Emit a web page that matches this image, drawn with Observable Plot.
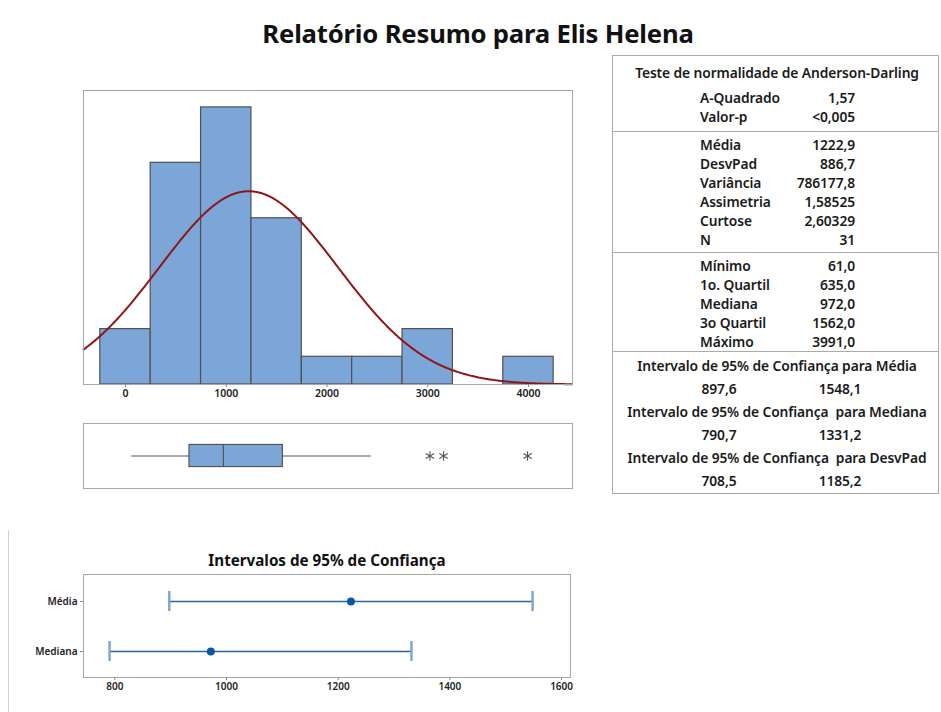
<!DOCTYPE html>
<html><head><meta charset="utf-8">
<script src="https://cdn.jsdelivr.net/npm/d3@7"></script>
<script src="https://cdn.jsdelivr.net/npm/@observablehq/plot@0.6"></script>
<style>
body{margin:0;background:#fff;font-family:"Noto Sans",sans-serif;}
#root{position:relative;width:941px;height:712px;overflow:hidden;background:#fff}
.abs{position:absolute;white-space:pre}
.plot{position:absolute}
</style></head><body><div id="root"></div>
<script>
// ---------- data ----------
const title = "Relatório Resumo para Elis Helena";
const binCenters = [0, 500, 1000, 1500, 2000, 2500, 3000, 3500, 4000];
const binCounts  = [2, 8, 10, 6, 1, 1, 2, 0, 1];
const binWidth = 500;
const histTicks = [0, 1000, 2000, 3000, 4000];
const mean = 1222.9, stdev = 886.7, n = 31;

const boxMin = 61, boxQ1 = 635, boxMedian = 972, boxQ3 = 1562, boxWhiskerHigh = 2441;
const boxOutliers = [3022, 3157, 3991];

const ciTitle = "Intervalos de 95% de Confiança";
const ciLabels = ["Média", "Mediana"];
const ciCenter = [1222.9, 972.0];
const ciLow = [897.6, 790.7];
const ciHigh = [1548.1, 1331.2];
const ciTicks = [800, 1000, 1200, 1400, 1600];

const adTitle = "Teste de normalidade de Anderson-Darling";
const adLabels = ["A-Quadrado", "Valor-p"];
const adValues = ["1,57", "<0,005"];
const descLabels = ["Média", "DesvPad", "Variância", "Assimetria", "Curtose", "N"];
const descValues = ["1222,9", "886,7", "786177,8", "1,58525", "2,60329", "31"];
const quartLabels = ["Mínimo", "1o. Quartil", "Mediana", "3o Quartil", "Máximo"];
const quartValues = ["61,0", "635,0", "972,0", "1562,0", "3991,0"];
const intTitles = ["Intervalo de 95% de Confiança para Média", "Intervalo de 95% de Confiança  para Mediana", "Intervalo de 95% de Confiança  para DesvPad"];
const intLow = ["897,6", "790,7", "708,5"];
const intHigh = ["1548,1", "1331,2", "1185,2"];

// ---------- helpers ----------
const root = document.getElementById("root");
const FONT = '"Noto Sans", sans-serif';
function place(el, left, top) { el.classList.add("plot"); el.style.left = left + "px"; el.style.top = top + "px"; root.appendChild(el); return el; }
function text(str, opts) {
  const d = document.createElement("div");
  d.className = "abs";
  d.textContent = str;
  Object.assign(d.style, opts);
  root.appendChild(d);
  return d;
}

// ---------- title ----------
text(title, {left: "0px", width: "956px", top: "16px", textAlign: "center", fontSize: "25.7px", fontWeight: "bold", color: "#111", letterSpacing: "-0.2px"});

// ---------- histogram ----------
const bins = binCenters.map((c, i) => ({x1: c - binWidth / 2, x2: c + binWidth / 2, count: binCounts[i]}));
const xDomain = [-417, 4437];
const curve = d3.range(xDomain[0], xDomain[1] + 1, 10).map(x => ({
  x, y: n * binWidth * Math.exp(-0.5 * ((x - mean) / stdev) ** 2) / (stdev * Math.sqrt(2 * Math.PI))
}));
const hist = Plot.plot({
  width: 590, height: 330, marginLeft: 83, marginRight: 18, marginTop: 10, marginBottom: 26,
  style: {fontFamily: FONT, fontSize: "10.5px", color: "#222", background: "transparent"},
  x: {domain: xDomain},
  y: {domain: [0, 10.61]},
  marks: [
    Plot.rectY(bins, {x1: "x1", x2: "x2", y: "count", fill: "#7da6d8", stroke: "#505050", strokeWidth: 1.2}),
    Plot.line(curve, {x: "x", y: "y", stroke: "#8e1616", strokeWidth: 2}),
    Plot.frame({stroke: "#a8a8a8"}),
    Plot.axisX({ticks: histTicks, tickSize: 3, tickPadding: 2, stroke: "#888", fill: "#222", label: null, tickFormat: d => String(d), fontWeight: "600"}),
    Plot.axisY({ticks: []})
  ]
});
place(hist, 0, 80);

// ---------- boxplot ----------
const boxData = [{q1: boxQ1, q3: boxQ3, med: boxMedian, lo: boxMin, hi: boxWhiskerHigh}];
const box = Plot.plot({
  width: 590, height: 85, marginLeft: 83, marginRight: 18, marginTop: 10, marginBottom: 10,
  style: {fontFamily: FONT, background: "transparent"},
  x: {domain: xDomain, axis: null},
  y: {domain: [0, 1], axis: null},
  marks: [
    Plot.ruleY(boxData, {x1: "lo", x2: "q1", y: 0.5, stroke: "#555", strokeWidth: 1.1}),
    Plot.ruleY(boxData, {x1: "q3", x2: "hi", y: 0.5, stroke: "#555", strokeWidth: 1.1}),
    Plot.rect(boxData, {x1: "q1", x2: "q3", y1: 0.33, y2: 0.67, fill: "#7da6d8", stroke: "#555", strokeWidth: 1.2}),
    Plot.ruleX(boxData, {x: "med", y1: 0.33, y2: 0.67, stroke: "#555", strokeWidth: 1.2}),
    Plot.dot(boxOutliers, {x: d => d, y: 0.5, symbol: "asterisk", r: 4.6, stroke: "#555", strokeWidth: 1.1}),
    Plot.frame({stroke: "#a8a8a8"})
  ]
});
place(box, 0, 413);

// ---------- CI plot ----------
text(ciTitle, {left: "83px", width: "488px", top: "550px", textAlign: "center", fontSize: "15.2px", fontWeight: "bold", color: "#111"});
const ciData = ciLabels.map((label, i) => ({label, center: ciCenter[i], low: ciLow[i], high: ciHigh[i]}));
const ci = Plot.plot({
  width: 590, height: 135, marginLeft: 83, marginRight: 20, marginTop: 10, marginBottom: 22,
  style: {fontFamily: FONT, fontSize: "10px", color: "#222", background: "transparent"},
  x: {domain: [744, 1616]},
  y: {type: "band", domain: ciLabels, paddingInner: 0.604, paddingOuter: 0.322},
  marks: [
    Plot.ruleY(ciData, {y: "label", x1: "low", x2: "high", stroke: "#2a62a8", strokeWidth: 1.4}),
    Plot.tickX(ciData, {x: "low", y: "label", stroke: "#7aa3d6", strokeWidth: 2.4}),
    Plot.tickX(ciData, {x: "high", y: "label", stroke: "#7aa3d6", strokeWidth: 2.4}),
    Plot.dot(ciData, {x: "center", y: "label", r: 4, fill: "#0b57a6"}),
    Plot.frame({stroke: "#a8a8a8"}),
    Plot.axisX({ticks: ciTicks, tickSize: 3, tickPadding: 2, stroke: "#888", fill: "#222", label: null, tickFormat: d => String(d), fontWeight: "600"}),
    Plot.axisY({tickSize: 3, tickPadding: 3, stroke: "#888", fill: "#222", label: null, fontWeight: "600"})
  ]
});
place(ci, 0, 564);

// left faint border
const lb = document.createElement("div");
Object.assign(lb.style, {position: "absolute", left: "8px", top: "530px", width: "1px", height: "182px", background: "#d0d0d0"});
root.appendChild(lb);

// ---------- stats table ----------
const tb = document.createElement("div");
Object.assign(tb.style, {position: "absolute", left: "612px", top: "55px", width: "327px", height: "439px", border: "1px solid #aaa", boxSizing: "border-box"});
root.appendChild(tb);
[131, 252, 351].forEach(y => {
  const s = document.createElement("div");
  Object.assign(s.style, {position: "absolute", left: "612px", top: y + "px", width: "327px", height: "1px", background: "#aaa"});
  root.appendChild(s);
});
const TS = {fontSize: "13.8px", color: "#1a1a1a", fontWeight: "600", lineHeight: "18px", letterSpacing: "-0.1px"};
function row(label, value, cy) {
  text(label, Object.assign({left: "700px", top: (cy - 9) + "px"}, TS));
  text(value, Object.assign({left: "755px", width: "100px", textAlign: "right", top: (cy - 9) + "px"}, TS));
}
function center(str, cx, cy, w) {
  text(str, Object.assign({left: (cx - w / 2) + "px", width: w + "px", textAlign: "center", top: (cy - 9) + "px"}, TS));
}
center(adTitle, 777, 73, 326);
adLabels.forEach((l, i) => row(l, adValues[i], 98 + i * 19));
descLabels.forEach((l, i) => row(l, descValues[i], 145 + i * 19));
quartLabels.forEach((l, i) => row(l, quartValues[i], 266 + i * 19));
intTitles.forEach((t, i) => {
  const y0 = 366 + i * 46;
  center(t, 777, y0, 326);
  center(intLow[i], 719, y0 + 23, 80);
  center(intHigh[i], 840, y0 + 23, 80);
});
</script></body></html>
